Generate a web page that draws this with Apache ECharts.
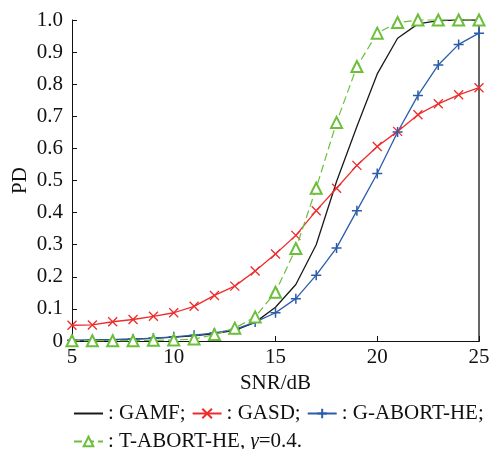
<!DOCTYPE html>
<html>
<head>
<meta charset="utf-8">
<script src="https://cdn.jsdelivr.net/npm/echarts@6/dist/echarts.min.js"></script>
<style>
  html, body { margin: 0; padding: 0; background: #fff; }
  #chart { width: 491px; height: 449px; }
</style>
</head>
<body>
<div id="chart"></div>
<script>
// SNR 5..25 dB
var snr = [5, 6, 7, 8, 9, 10, 11, 12, 13, 14, 15, 16, 17, 18, 19, 20, 21, 22, 23, 24, 25];
var gamf = [0.002, 0.003, 0.004, 0.006, 0.008, 0.012, 0.016, 0.023, 0.033, 0.058, 0.105, 0.176, 0.300, 0.497, 0.668, 0.832, 0.943, 0.988, 0.998, 1.0, 1.0];
var gasd = [0.049, 0.050, 0.060, 0.067, 0.077, 0.088, 0.108, 0.142, 0.171, 0.218, 0.271, 0.329, 0.406, 0.476, 0.547, 0.606, 0.653, 0.705, 0.739, 0.767, 0.789];
var gAbortHe = [0.002, 0.003, 0.004, 0.006, 0.009, 0.013, 0.018, 0.025, 0.036, 0.059, 0.088, 0.132, 0.205, 0.290, 0.406, 0.522, 0.651, 0.765, 0.860, 0.924, 0.959];
var tAbortHe = [0.001, 0.001, 0.001, 0.001, 0.002, 0.003, 0.006, 0.020, 0.040, 0.075, 0.152, 0.288, 0.476, 0.681, 0.855, 0.959, 0.992, 1.0, 1.0, 1.0, 1.0];
var xTicks = [5, 10, 15, 20, 25];

var font = "'Liberation Serif', 'Times New Roman', serif";
var RED = "#ee2c2c", BLUE = "#2a5caa", GREEN = "#6cbf3a", BLACK = "#1a1a1a";

function pairs(ys) {
  return ys.map(function (y, i) { return [snr[i], y]; });
}

var chart = echarts.init(document.getElementById("chart"));

var option = {
  animation: false,
  backgroundColor: "#fff",
  grid: { left: 72, right: 12, top: 20, bottom: 108, outerBoundsMode: "none" },
  legend: [
    {
      left: 68, top: 398,
      itemWidth: 29, itemHeight: 12, itemGap: 6,
      textStyle: { fontFamily: font, fontSize: 21, color: "#111" },
      formatter: function (n) { return ": " + n + ";"; },
      data: [
        { name: "GAMF", itemStyle: { opacity: 0 } },
        "GASD",
        "G-ABORT-HE"
      ]
    },
    {
      left: 68, top: 426,
      itemWidth: 29, itemHeight: 12,
      textStyle: {
        fontFamily: font, fontSize: 21, color: "#111",
        rich: { i: { fontFamily: font, fontSize: 21, fontStyle: "italic", color: "#111" } }
      },
      formatter: function (n) { return ": " + n + ", {i|γ}=0.4."; },
      data: ["T-ABORT-HE"]
    }
  ],
  xAxis: [
    {
      type: "value", min: 5, max: 25, interval: 5,
      name: "SNR/dB", nameLocation: "middle", nameGap: 30,
      nameTextStyle: { fontFamily: font, fontSize: 21, color: "#111" },
      axisLine: { lineStyle: { color: "#111", width: 1 } },
      axisTick: { inside: true, length: 5, lineStyle: { color: "#111" } },
      axisLabel: {
        fontFamily: font, fontSize: 21, color: "#111", margin: 6,
        customValues: xTicks
      },
      splitLine: { show: false }
    },
    {
      type: "value", min: 5, max: 25, position: "top",
      axisLine: { show: true, lineStyle: { color: "#111", width: 1 } },
      axisTick: { show: false }, axisLabel: { show: false }, splitLine: { show: false }
    }
  ],
  yAxis: [
    {
      type: "value", min: 0, max: 1, interval: 0.1,
      name: "PD", nameLocation: "middle", nameGap: 41, nameMoveOverlap: false,
      nameTextStyle: { fontFamily: font, fontSize: 21, color: "#111" },
      axisLine: { show: true, lineStyle: { color: "#111", width: 1 } },
      axisTick: { inside: true, length: 5, lineStyle: { color: "#111" } },
      axisLabel: {
        fontFamily: font, fontSize: 21, color: "#111", margin: 9,
        formatter: function (v) { return v === 0 ? "0" : v.toFixed(1); }
      },
      splitLine: { show: false }
    },
    {
      type: "value", min: 0, max: 1, position: "right",
      axisLine: { show: true, lineStyle: { color: "#666", width: 2 } },
      axisTick: { show: false }, axisLabel: { show: false }, splitLine: { show: false }
    }
  ],
  series: [
    {
      name: "GAMF", type: "line", data: pairs(gamf),
      showSymbol: false, symbol: "none",
      lineStyle: { color: BLACK, width: 1.3 },
      itemStyle: { color: BLACK },
      z: 3
    },
    {
      name: "GASD", type: "line", data: pairs(gasd), clip: false,
      symbol: "path://M0,0L10,10M10,0L0,10", symbolSize: 9,
      lineStyle: { color: RED, width: 1.3 },
      itemStyle: { color: RED, borderColor: RED, borderWidth: 1.3 },
      z: 4
    },
    {
      name: "G-ABORT-HE", type: "line", data: pairs(gAbortHe), clip: false,
      symbol: "path://M5,0L5,10M0,5L10,5", symbolSize: 10,
      lineStyle: { color: BLUE, width: 1.3 },
      itemStyle: { color: BLUE, borderColor: BLUE, borderWidth: 1.5 },
      z: 4
    },
    {
      name: "T-ABORT-HE", type: "line", data: pairs(tAbortHe), clip: false,
      symbol: "emptyTriangle", symbolSize: 11,
      lineStyle: { color: GREEN, width: 1.2, type: [8, 4] },
      itemStyle: { color: GREEN, borderColor: GREEN, borderWidth: 1.3 },
      z: 5
    }
  ]
};

chart.setOption(option);
</script>
</body>
</html>
